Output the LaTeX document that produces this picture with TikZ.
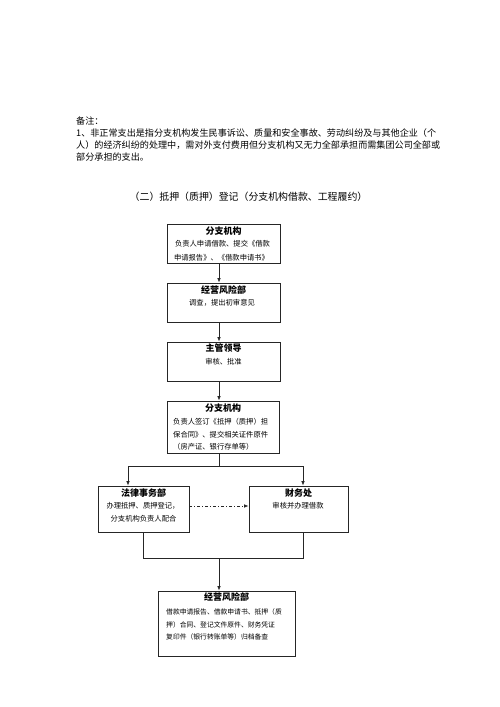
\documentclass[tikz,border=0pt]{standalone}
\usepackage{fontspec}
\newfontfamily\cjk{Noto Sans CJK SC}
\usetikzlibrary{arrows.meta}
\begin{document}
\begin{tikzpicture}[x=1pt,y=-1pt,
  flowbox/.style={draw=black!85,line width=0.8pt,inner sep=0pt},
  hd/.style={inner sep=0pt,font=\cjk\bfseries\fontsize{9pt}{10pt}\selectfont},
  bd/.style={inner sep=0pt,font=\cjk\fontsize{7.3pt}{9pt}\selectfont},
  bds/.style={inner sep=0pt,font=\cjk\fontsize{6.8pt}{8pt}\selectfont},
  note/.style={inner sep=0pt,anchor=west,font=\cjk\fontsize{9.1pt}{11pt}\selectfont},
  arr/.style={line width=0.8pt,draw=black!85,-{Latex[length=4.5pt,width=3.6pt]}},
  ln/.style={line width=0.8pt,draw=black!85},
  dd/.style={dash pattern=on 3pt off 2pt on 1pt off 2pt}]
\useasboundingbox (0,0) rectangle (500,707);
% note
\node[note] (n0) at (76,121) {备注：};
\node[note] (n1) at (76,133) {1、非正常支出是指分支机构发生民事诉讼、质量和安全事故、劳动纠纷及与其他企业（个};
\node[note] (n2) at (76,145) {人）的经济纠纷的处理中，需对外支付费用但分支机构又无力全部承担而需集团公司全部或};
\node[note] (n3) at (76,157) {部分承担的支出。};
% title
\node[inner sep=0pt,font=\cjk\fontsize{9.9pt}{11pt}\selectfont] (title) at (248.5,197) {（二）抵押（质押）登记（分支机构借款、工程履约）};
% boxes
\node[flowbox,minimum width=113pt,minimum height=39pt] (b1) at (223.5,243.5) {};
\node[flowbox,minimum width=113pt,minimum height=39pt] (b2) at (223.5,302.5) {};
\node[flowbox,minimum width=113pt,minimum height=39pt] (b3) at (223.5,361.5) {};
\node[flowbox,minimum width=112pt,minimum height=52pt] (b4) at (223,427) {};
\node[flowbox,minimum width=91pt,minimum height=46pt] (bl) at (143.5,509) {};
\node[flowbox,minimum width=99pt,minimum height=46pt] (br) at (298.5,509) {};
\node[flowbox,minimum width=137pt,minimum height=65pt] (b5) at (226.5,623.5) {};
% box texts
\node[hd] (t1) at (223.5,231) {分支机构};
\node[bd] (t1a) at (222.5,244) {负责人申请借款、提交《借款};
\node[bd] (t1b) at (221.5,258) {申请报告》、《借款申请书》};
\node[hd] (t2) at (223.5,290) {经营风险部};
\node[bd] (t2a) at (222,303) {调查，提出初审意见};
\node[hd] (t3) at (223.5,348) {主管领导};
\node[bd] (t3a) at (223.5,362) {审核、批准};
\node[hd] (t4) at (223,408) {分支机构};
\node[bd,anchor=west] (t4a) at (173,422) {负责人签订《抵押（质押）担};
\node[bd,anchor=west] (t4b) at (173,434.5) {保合同》、提交相关证件原件};
\node[bd,anchor=west] (t4c) at (173,447) {（房产证、银行存单等）};
\node[hd] (tl) at (143.5,493) {法律事务部};
\node[bd] (tla) at (143,506) {办理抵押、质押登记，};
\node[bd] (tlb) at (143.5,519) {分支机构负责人配合};
\node[hd] (tr) at (298.5,493) {财务处};
\node[bd] (tra) at (298,506) {审核并办理借款};
\node[hd] (t5) at (226.5,597) {经营风险部};
\node[bds,anchor=west] (t5a) at (166,612) {借款申请报告、借款申请书、抵押（质};
\node[bds,anchor=west] (t5b) at (166,624.5) {押）合同、登记文件原件、财务凭证};
\node[bds,anchor=west] (t5c) at (166,637) {复印件（银行转账单等）归档备查};
% connectors
\coordinate (vx) at (219,0);
\coordinate (sl) at (128,466);
\coordinate (sr) at (303,466);
\coordinate (ml) at (143,558);
\coordinate (mr) at (303,558);
\coordinate (ddy) at (0,506);
\draw[arr] (b1.south -| vx) -- (b2.north -| vx);
\draw[arr] (b2.south -| vx) -- (b3.north -| vx);
\draw[arr] (b3.south -| vx) -- (b4.north -| vx);
\draw[arr] (b4.south -| vx) |- (sl) -- (bl.north -| sl);
\draw[arr] (vx |- sl) -- (sr) -- (br.north -| sr);
\draw[arr,dd] (bl.east |- ddy) -- (br.west |- ddy);
\draw[ln] (bl.south -| ml) -- (ml) -- (mr) -- (br.south -| mr);
\draw[arr] (vx |- ml) -- (b5.north -| vx);
\end{tikzpicture}
\end{document}
